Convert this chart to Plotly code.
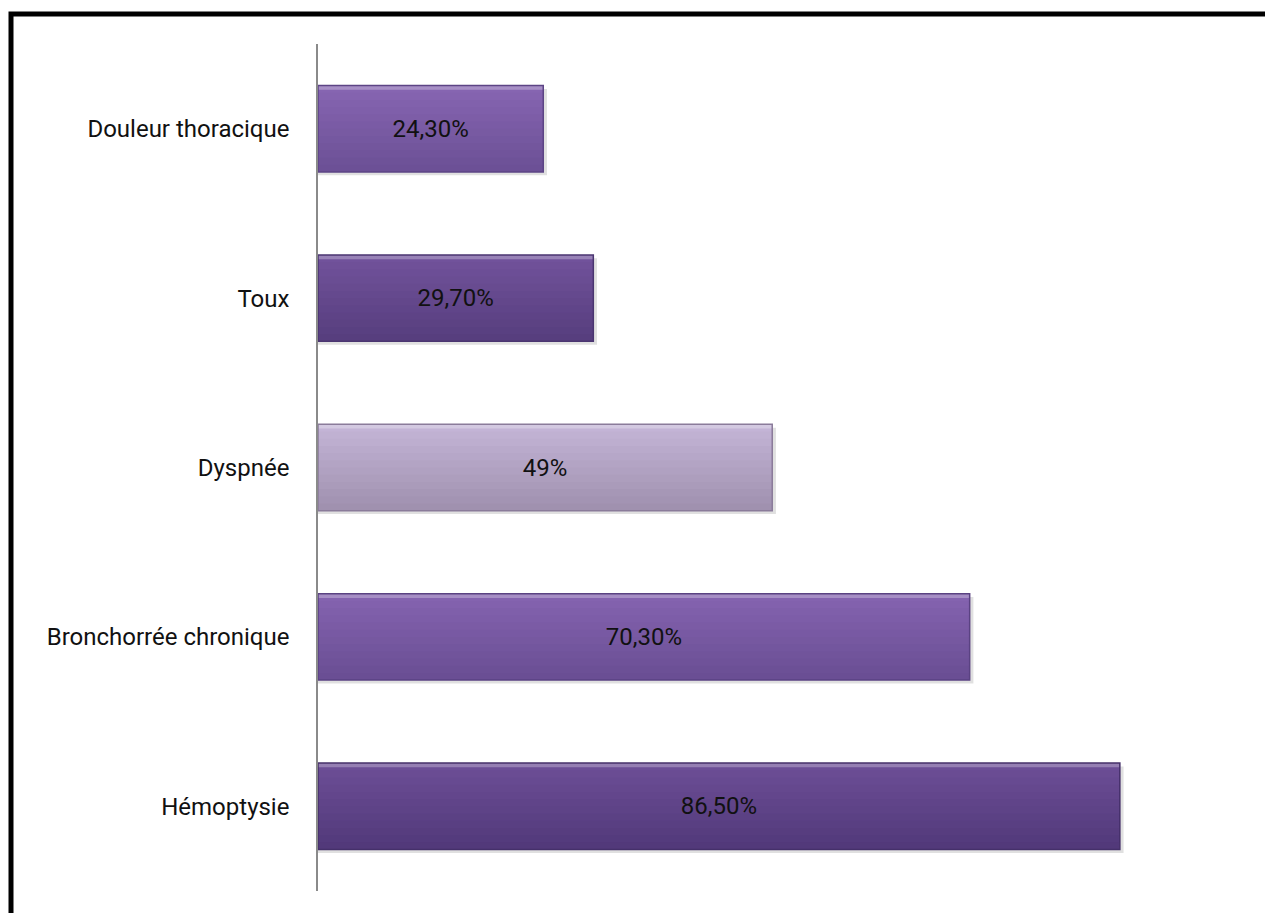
import plotly.graph_objects as go

categories = ["Hémoptysie", "Bronchorrée chronique", "Dyspnée", "Toux", "Douleur thoracique"]
values = [86.5, 70.3, 49.0, 29.7, 24.3]
value_labels = ["86,50%", "70,30%", "49%", "29,70%", "24,30%"]

top_colors = ["#6c4e96", "#8463af", "#c3b4d6", "#71529b", "#8665b1"]
bottom_colors = ["#52397a", "#6a4e94", "#a091af", "#573e7e", "#6c5096"]
edge_colors = ["#45306a", "#5a4282", "#8a7b9a", "#4a3570", "#5c4485"]

BAR_W = 0.51
N_STRIPS = 12
FONT = "Roboto, Open Sans, sans-serif"


def hex_to_rgb(h):
    h = h.lstrip("#")
    return tuple(int(h[i:i + 2], 16) for i in (0, 2, 4))


def mix(c1, c2, t):
    a, b = hex_to_rgb(c1), hex_to_rgb(c2)
    return "rgb({},{},{})".format(*[round(a[k] + (b[k] - a[k]) * t) for k in range(3)])


fig = go.Figure()

# soft shadow
fig.add_trace(go.Bar(
    y=categories, x=[v + 0.4 for v in values], orientation="h",
    offset=-BAR_W / 2 - 0.02, width=BAR_W,
    marker=dict(color="rgba(0,0,0,0.12)", line=dict(width=0)),
    hoverinfo="skip", showlegend=False,
))

# vertical gradient: each layer starts higher and runs to the top edge
sw = BAR_W / N_STRIPS
for i in range(N_STRIPS):
    t = i / (N_STRIPS - 1)  # 0 bottom -> 1 top
    cols = [mix(b, tc, t) for tc, b in zip(top_colors, bottom_colors)]
    fig.add_trace(go.Bar(
        y=categories, x=values, orientation="h",
        offset=-BAR_W / 2 + i * sw, width=BAR_W - i * sw,
        marker=dict(color=cols, line=dict(width=0)),
        hoverinfo="skip", showlegend=False,
    ))

# light highlight at the top edge
fig.add_trace(go.Bar(
    y=categories, x=values, orientation="h",
    offset=BAR_W / 2 - 0.025, width=0.025,
    marker=dict(color="rgba(255,255,255,0.28)", line=dict(width=0)),
    hoverinfo="skip", showlegend=False,
))

# outline + value labels
fig.add_trace(go.Bar(
    y=categories, x=values, orientation="h",
    offset=-BAR_W / 2, width=BAR_W,
    text=value_labels, textposition="inside", insidetextanchor="middle",
    textfont=dict(family=FONT, size=24, color="#111111"),
    marker=dict(color="rgba(0,0,0,0)", line=dict(color=edge_colors, width=1.5)),
    hoverinfo="skip", showlegend=False,
))

fig.update_layout(
    width=1265, height=913,
    margin=dict(l=318, r=20, t=44, b=22),
    paper_bgcolor="white", plot_bgcolor="white",
    barmode="overlay",
    xaxis=dict(range=[0, 100], visible=False, fixedrange=True),
    yaxis=dict(
        categoryorder="array", categoryarray=categories,
        showline=True, linecolor="#8a8a8a", linewidth=1.5,
        showgrid=False, zeroline=False, ticks="", ticklabelstandoff=22,
        tickfont=dict(family=FONT, size=24, color="#111111"),
        fixedrange=True,
    ),
    uniformtext=dict(mode="show", minsize=10),
    shapes=[dict(
        type="rect", xref="paper", yref="paper",
        x0=(11 - 318) / 927, x1=1.2, y0=1 + (44 - 14) / 847, y1=-0.2,
        line=dict(color="black", width=5), fillcolor="rgba(0,0,0,0)", layer="above",
    )],
)

fig.write_html("out.html")
